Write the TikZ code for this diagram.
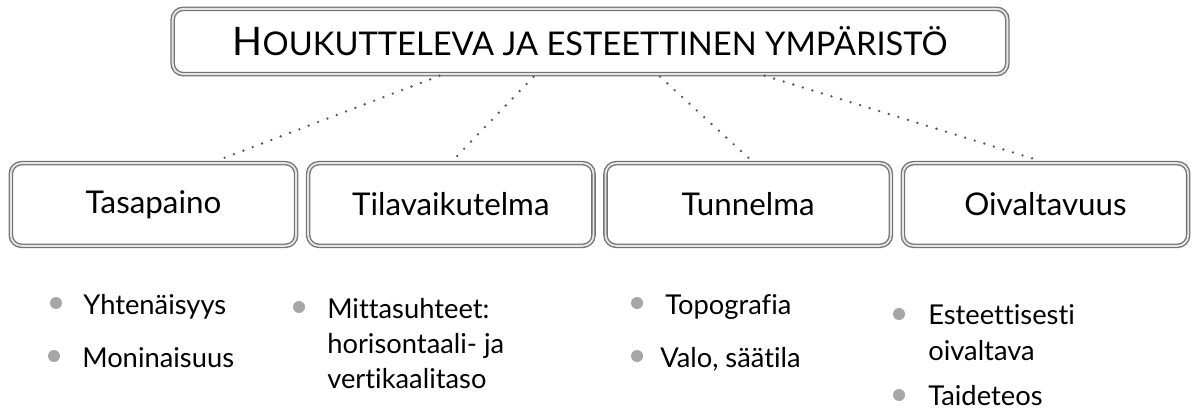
\documentclass[tikz,border=0pt]{standalone}
\usepackage{fontspec}
\setmainfont{Lato}[Ligatures={NoCommon}]
\usetikzlibrary{positioning}

\tikzset{
  framebox/.style={draw=gray!90!black, double=gray!20, double distance=1.4pt, line width=1pt, rounded corners=8pt, fill=white, inner sep=0pt},
  topbox/.style={framebox, minimum width=626pt, minimum height=49pt},
  catbox/.style={framebox, minimum width=214pt, minimum height=62pt, font=\fontsize{23.5}{26}\selectfont},
  dotline/.style={draw=gray!70!black, line width=2pt, line cap=round, dash pattern=on 0pt off 7.5pt, shorten <=2pt, shorten >=4pt},
  bullet/.style={circle, fill=gray!70, inner sep=0pt, minimum size=9pt},
  item/.style={anchor=base west, inner sep=0pt, font=\fontsize{20.5}{26}\selectfont},
}

\begin{document}
\begin{tikzpicture}[x=0.75pt, y=-0.75pt]
        \useasboundingbox (0,0) rectangle (1194,409);

        \node[topbox] (top) at (590,41.5) {{\fontsize{29.5}{30}\selectfont H}\fontsize{24.5}{30}\selectfont OUKUTTELEVA JA ESTEETTINEN YMPÄRISTÖ};

        \node[catbox] (t1) at (153.5,204.5) {Tasapaino};
        \node[catbox, right=8pt of t1] (t2) {Tilavaikutelma};
        \node[catbox, right=8pt of t2] (t3) {Tunnelma};
        \node[catbox, right=8pt of t3] (t4) {Oivaltavuus};

        \draw[dotline] ([xshift=-111pt]top.south) -- ([xshift=44pt]t1.north);
        \draw[dotline] ([xshift=-41pt]top.south) -- (t2.north);
        \draw[dotline] ([xshift=51pt]top.south) -- ([xshift=4pt]t3.north);
        \draw[dotline] ([xshift=129pt]top.south) -- (t4.north);

        \node[bullet] (d11) at (56,303) {};
        \node[item] (i11) at (83,315) {Yhtenäisyys};
        \node[bullet] (d12) at (54,356) {};
        \node[item] (i12) at (82,367) {Moninaisuus};

        \node[bullet] (d21) at (299,307) {};
        \node[item] (i21) at (327,318) {Mittasuhteet:};
        \node[item] (i21b) at (327,353) {horisontaali- ja};
        \node[item] (i21c) at (327,388) {vertikaalitaso};

        \node[bullet] (d31) at (637,303) {};
        \node[item] (i31) at (665,315) {Topografia};
        \node[bullet] (d32) at (637,356) {};
        \node[item] (i32) at (660,367) {Valo, säätila};

        \node[bullet] (d41) at (899,314) {};
        \node[item] (i41) at (928,325) {Esteettisesti};
        \node[item] (i41b) at (928,360) {oivaltava};
        \node[bullet] (d42) at (899,395) {};
        \node[item] (i42) at (928,405) {Taideteos};
\end{tikzpicture}
\end{document}
